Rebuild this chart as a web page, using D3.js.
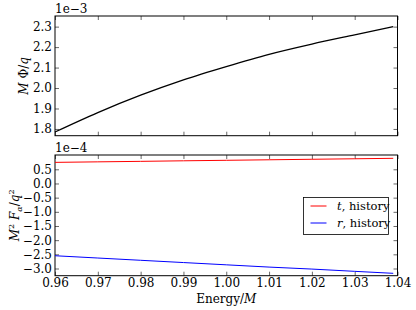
<!DOCTYPE html>
<html>
<head>
<meta charset="utf-8">
<script src="https://cdn.jsdelivr.net/npm/d3@7"></script>
<style>
  body { margin:0; background:#fff; }
  svg text { font-family: "DejaVu Serif", "Liberation Serif", serif; fill:#000; }
</style>
</head>
<body>
<svg id="chart" width="416" height="310"></svg>
<script>
// valores
const energy   = [0.96, 0.97, 0.98, 0.99, 1.00, 1.01, 1.02, 1.03, 1.039];
const phi      = [1.785, 1.880, 1.965, 2.040, 2.105, 2.165, 2.215, 2.260, 2.300]; // x1e-3
const ftHist   = [0.745, 0.763, 0.781, 0.800, 0.818, 0.836, 0.854, 0.872, 0.888]; // x1e-4
const frHist   = [-2.55, -2.63, -2.71, -2.79, -2.87, -2.95, -3.02, -3.10, -3.17];  // x1e-4
const xTicks   = [0.96, 0.97, 0.98, 0.99, 1.00, 1.01, 1.02, 1.03, 1.04];
const topTicks = [1.8, 1.9, 2.0, 2.1, 2.2, 2.3];
const botTicks = [0.5, 0.0, -0.5, -1.0, -1.5, -2.0, -2.5, -3.0];

const svg = d3.select('#chart');
const left = 55, right = 397.5;
const FONT = '"DejaVu Serif", "Liberation Serif", serif';
const FS = '12px';
const fmt = d => d3.format('.1f')(d).replace('-', '\u2212');

const x = d3.scaleLinear().domain([0.96, 1.04]).range([left, right]);

function panel(top, bottom, yDomain, yTicks, showX){
  const y = d3.scaleLinear().domain(yDomain).range([bottom, top]);
  const g = svg.append('g');

  // ejes: ticks hacia dentro en los cuatro lados
  const ax = [
    [d3.axisBottom(x).tickValues(xTicks).tickFormat(showX ? d3.format('.2f') : ''), `translate(0,${bottom})`, 3],
    [d3.axisTop(x).tickValues(xTicks).tickFormat(''), `translate(0,${top})`, 3],
    [d3.axisLeft(y).tickValues(yTicks).tickFormat(fmt), `translate(${left},0)`, 3],
    [d3.axisRight(y).tickValues(yTicks).tickFormat(''), `translate(${right},0)`, 3]
  ];
  ax.forEach(([a, t, pad]) => {
    const s = g.append('g').attr('transform', t)
      .call(a.tickSizeInner(-4).tickSizeOuter(0).tickPadding(pad));
    s.attr('font-family', null);
    s.select('.domain').remove();
    s.selectAll('line').attr('stroke', '#000').attr('stroke-width', 0.6);
    s.selectAll('text').style('font-size', FS).style('font-family', FONT).attr('fill', '#000');
  });

  g.append('rect')
    .attr('x', left).attr('y', top)
    .attr('width', right - left).attr('height', bottom - top)
    .attr('fill', 'none').attr('stroke', '#000').attr('stroke-width', 1);

  return y;
}

function label(){
  return svg.append('text').style('font-size', FS).style('font-family', FONT);
}

// ---------- panel superior ----------
const yTop = panel(16, 135.7, [1.767, 2.352], topTicks, false);
svg.append('path')
  .datum(energy.map((e, i) => [e, phi[i]]))
  .attr('d', d3.line().x(d => x(d[0])).y(d => yTop(d[1])).curve(d3.curveMonotoneX))
  .attr('fill', 'none').attr('stroke', '#000').attr('stroke-width', 1.3);

label().attr('x', left).attr('y', 13).text('1e\u22123');

label()
  .attr('transform', `translate(28,${(16 + 135.7) / 2}) rotate(-90)`)
  .attr('text-anchor', 'middle')
  .html('<tspan font-style="italic">M</tspan> \u03A6/<tspan font-style="italic">q</tspan>');

// ---------- panel inferior ----------
const yBot = panel(155, 275.7, [-3.254, 1.005], botTicks, true);
[[ftHist, '#ff0000'], [frHist, '#0000ff']].forEach(([vals, c]) => {
  svg.append('path')
    .datum(energy.map((e, i) => [e, vals[i]]))
    .attr('d', d3.line().x(d => x(d[0])).y(d => yBot(d[1])).curve(d3.curveMonotoneX))
    .attr('fill', 'none').attr('stroke', c).attr('stroke-width', 1);
});

label().attr('x', left).attr('y', 152).text('1e\u22124');

label()
  .attr('transform', `translate(19,${(155 + 275.7) / 2}) rotate(-90)`)
  .attr('text-anchor', 'middle')
  .html('<tspan font-style="italic">M</tspan><tspan dy="-5" font-size="8px">2</tspan>' +
        '<tspan dy="5"> </tspan><tspan font-style="italic">F</tspan><tspan dy="3" font-size="8px" font-style="italic">\u03B1</tspan>' +
        '<tspan dy="-3">/</tspan><tspan font-style="italic">q</tspan><tspan dy="-5" font-size="8px">2</tspan>');

label()
  .attr('x', (left + right) / 2).attr('y', 303)
  .attr('text-anchor', 'middle')
  .html('Energy/<tspan font-style="italic">M</tspan>');

// leyenda
const leg = svg.append('g');
leg.append('rect').attr('x', 303.5).attr('y', 197.5).attr('width', 85).attr('height', 37)
  .attr('fill', '#fff').attr('stroke', '#000').attr('stroke-width', 0.8);
[['t', '#ff0000', 206], ['r', '#0000ff', 223]].forEach(([s, c, yy]) => {
  leg.append('line').attr('x1', 310.5).attr('x2', 326.5).attr('y1', yy).attr('y2', yy)
    .attr('stroke', c).attr('stroke-width', 1);
  leg.append('text').attr('x', 337).attr('y', yy + 4)
    .style('font-size', '11.5px').style('font-family', FONT)
    .html(`<tspan font-style="italic">${s}</tspan>, history`);
});
</script>
</body>
</html>
